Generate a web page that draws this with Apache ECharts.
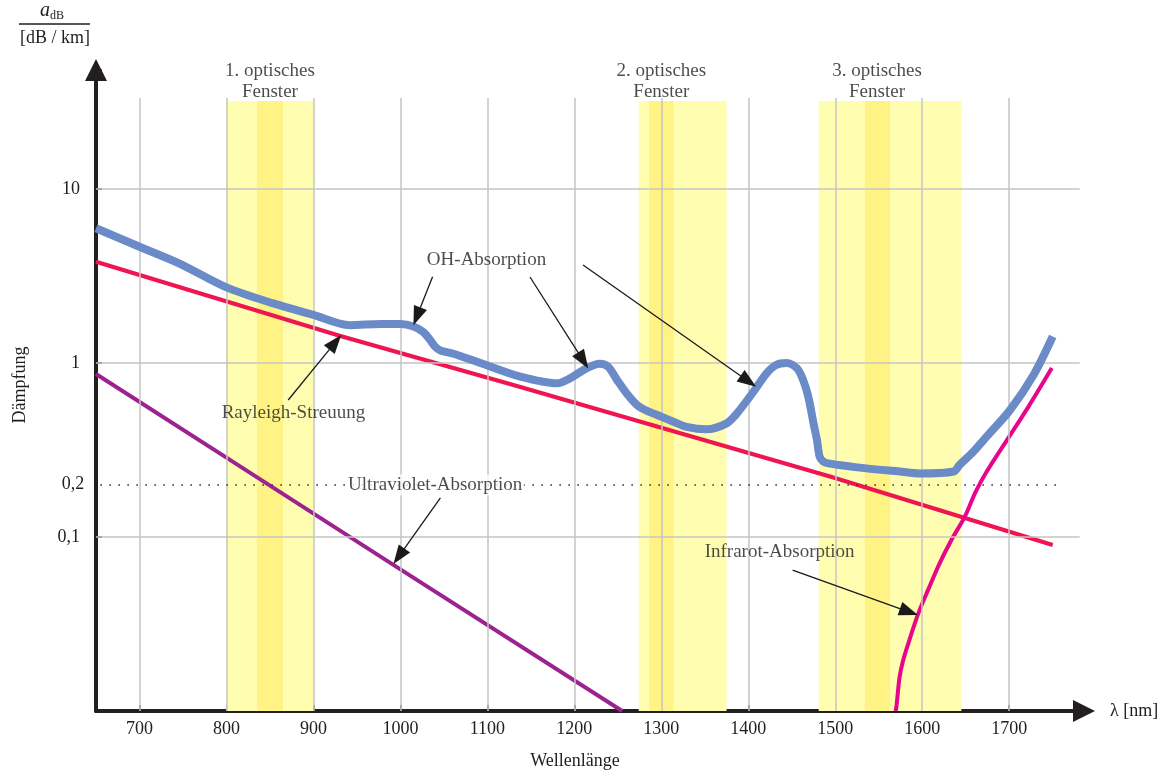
<!DOCTYPE html>
<html>
<head>
<meta charset="utf-8">
<script src="https://cdn.jsdelivr.net/npm/echarts@6/dist/echarts.min.js"></script>
<style>
  html, body { margin: 0; padding: 0; background: #ffffff; }
  #chart { width: 1171px; height: 771px; }
</style>
</head>
<body>
<div id="chart"></div>
<script>
// Wellenlängen-Achse (nm)
const xTicks = [700, 800, 900, 1000, 1100, 1200, 1300, 1400, 1500, 1600, 1700];
// Beschriftete Dämpfungswerte der log. Achse (dB/km)
const yGridValues = [0.1, 1, 10];
const refLevel = 0.2;

// Gesamtdämpfung einer Glasfaser [nm, dB/km]
const totalLoss = [
  [650, 5.95], [700, 4.66], [746, 3.73], [800, 2.72], [854, 2.2], [900, 1.89], [942, 1.65],
  [977, 1.675], [1000, 1.675], [1015, 1.62], [1026, 1.51], [1034, 1.36], [1040, 1.24],
  [1046, 1.18], [1061, 1.13], [1092, 1.0], [1138, 0.834], [1180, 0.764], [1195, 0.816],
  [1214, 0.932], [1229, 0.99], [1239, 0.95], [1249, 0.8], [1260, 0.67], [1272, 0.574],
  [1283, 0.532], [1298, 0.496], [1314, 0.46], [1329, 0.43], [1352, 0.416], [1375, 0.45],
  [1387, 0.514], [1406, 0.684], [1421, 0.872], [1432, 0.974], [1444, 1.0], [1456, 0.932],
  [1463, 0.8], [1469, 0.64], [1475, 0.45], [1479, 0.36], [1482, 0.29], [1486, 0.272],
  [1492, 0.265], [1536, 0.248], [1574, 0.238], [1597, 0.232], [1636, 0.238], [1643, 0.26],
  [1659, 0.31], [1674, 0.377], [1701, 0.537], [1728, 0.853], [1750, 1.42]
];
// Rayleigh-Streuung
const rayleigh = [[650, 3.82], [931, 1.43], [1137, 0.73], [1495, 0.222], [1750, 0.09]];
// Ultraviolett-Absorption
const ultraviolet = [[650, 0.865], [800, 0.286], [1000, 0.0652], [1255, 0.01]];
// Infrarot-Absorption
const infrared = [
  [1569.5, 0.01], [1570.5, 0.0108], [1574, 0.0157], [1578, 0.0195], [1584, 0.0245],
  [1595.5, 0.0364], [1607, 0.05], [1620, 0.0705], [1634, 0.097], [1649, 0.131],
  [1661, 0.18], [1674, 0.237], [1697, 0.358], [1722, 0.56], [1749, 0.936]
];

// Optische Fenster [von, bis] in nm
const windowsOuter = [[800, 900], [1274, 1375], [1481, 1645]];
const windowsInner = [[835, 865], [1286, 1314], [1534, 1563]];
const windowNames = ['1. optisches\nFenster', '2. optisches\nFenster', '3. optisches\nFenster'];
const windowCenters = [850, 1300, 1548];

const FONT = '"Liberation Serif", "DejaVu Serif", serif';
const TXT = '#1e1e1e';
const AXIS = '#231f20';
const X_MIN = 650, X_MAX = 1786, Y_MIN = 0.01, Y_MAX = 48.3;
const GRID_TOP_VAL = 33.3, GRID_RIGHT_VAL = 1781;

// Beschriftungen mit Pfeilen: [x0, y0, Spitze x, Spitze y] in Datenkoordinaten
const arrows = [
  [1037, 3.13, 1015, 1.65],
  [1149, 3.12, 1216, 0.93],
  [1210, 3.66, 1409, 0.73],
  [871, 0.613, 932, 1.45],
  [1046, 0.168, 992, 0.07],
  [1451, 0.0646, 1595, 0.0356]
];
const notes = [
  { name: 'OH-Absorption', value: [1099, 3.91] },
  { name: 'Rayleigh-Streuung', value: [877, 0.516] },
  // liegt auf der gepunkteten 0,2-Linie: weiß hinterlegt, damit lesbar
  { name: 'Ultraviolet-Absorption', value: [1040, 0.199], label: { backgroundColor: '#ffffff', padding: [0, 2] } },
  { name: 'Infrarot-Absorption', value: [1436, 0.082] }
];

const chart = echarts.init(document.getElementById('chart'), null, { renderer: 'canvas' });

const bandArea = (list) => list.map(([a, b]) => [
  { coord: [a, Y_MIN] }, { coord: [b, GRID_TOP_VAL - 1.3] }
]);

const curve = (name, data, color, width, z, smooth) => ({
  name, type: 'line', data, z,
  showSymbol: false, symbol: 'none', smooth: smooth || false,
  lineStyle: { color, width, cap: 'butt', join: 'round' },
  silent: true
});

// Pfeil: Linie plus gefüllte Dreiecksspitze, Enden über die Achsen umgerechnet
function renderArrow(params, api) {
  const p0 = api.coord([api.value(0), api.value(1)]);
  const p1 = api.coord([api.value(2), api.value(3)]);
  const dx = p1[0] - p0[0], dy = p1[1] - p0[1];
  const len = Math.hypot(dx, dy);
  const ux = dx / len, uy = dy / len;
  const headLen = 19, headHalf = 7;
  const bx = p1[0] - ux * headLen, by = p1[1] - uy * headLen;
  return {
    type: 'group',
    children: [
      {
        type: 'line',
        shape: { x1: p0[0], y1: p0[1], x2: bx + ux * 2, y2: by + uy * 2 },
        style: { stroke: '#1a1a1a', lineWidth: 1.3 }
      },
      {
        type: 'polygon',
        shape: { points: [p1, [bx - uy * headHalf, by + ux * headHalf], [bx + uy * headHalf, by - ux * headHalf]] },
        style: { fill: '#1a1a1a' }
      }
    ]
  };
}

chart.setOption({
  animation: false,
  backgroundColor: '#ffffff',
  grid: { left: 96, right: 87, top: 70, bottom: 60 },
  xAxis: {
    type: 'value', min: X_MIN, max: X_MAX,
    splitLine: { show: false },
    axisLine: {
      lineStyle: { color: AXIS, width: 4 },
      symbol: ['none', 'triangle'], symbolSize: [22, 22]
    },
    axisTick: { show: true, inside: true, length: 6, lineStyle: { color: AXIS, width: 1.5 }, customValues: xTicks },
    axisLabel: {
      customValues: xTicks, margin: 9, fontFamily: FONT, fontSize: 18, color: TXT,
      formatter: (v) => String(v)
    }
  },
  yAxis: {
    type: 'log', min: Y_MIN, max: Y_MAX, logBase: 10,
    splitLine: { show: false },
    axisLine: {
      lineStyle: { color: AXIS, width: 4 },
      symbol: ['none', 'triangle'], symbolSize: [22, 22]
    },
    axisTick: { show: true, inside: true, length: 6, lineStyle: { color: AXIS, width: 1.5 } },
    axisLabel: {
      margin: 16, fontFamily: FONT, fontSize: 18, color: TXT,
      formatter: (v) => {
        const hit = yGridValues.find((g) => Math.abs(v - g) / g < 1e-6);
        return hit === undefined ? '' : String(hit).replace('.', ',');
      }
    }
  },
  series: [
    {
      name: 'fensterHell', type: 'line', data: [], z: 1, silent: true,
      markArea: { silent: true, itemStyle: { color: '#fffdb0' }, data: bandArea(windowsOuter) }
    },
    {
      name: 'fensterDunkel', type: 'line', data: [], z: 1, silent: true,
      markArea: { silent: true, itemStyle: { color: '#fff385' }, data: bandArea(windowsInner) }
    },
    {
      name: 'gitter', type: 'line', data: [], z: 2, silent: true,
      markLine: {
        silent: true, symbol: ['none', 'none'], animation: false,
        label: { show: false },
        lineStyle: { color: '#c4c4c4', width: 1.5, type: 'solid' },
        data: [
          ...xTicks.map((x) => [{ coord: [x, Y_MIN] }, { coord: [x, GRID_TOP_VAL] }]),
          ...yGridValues.map((v) => [{ coord: [X_MIN, v] }, { coord: [GRID_RIGHT_VAL, v] }])
        ]
      }
    },
    {
      name: 'referenz', type: 'line', data: [], z: 3, silent: true,
      markLine: {
        silent: true, symbol: ['none', 'none'],
        lineStyle: { color: '#333333', width: 1.6, type: [1.6, 7.4] },
        label: {
          show: true, position: 'start', distance: 16, formatter: '0,2',
          fontFamily: FONT, fontSize: 18, color: TXT
        },
        data: [[{ coord: [655, refLevel] }, { coord: [1758, refLevel] }]]
      }
    },
    curve('Ultraviolet-Absorption', ultraviolet, '#9c2290', 4, 4),
    curve('Rayleigh-Streuung', rayleigh, '#ee1550', 4, 4),
    curve('Infrarot-Absorption', infrared, '#e8058a', 4, 4, 0.3),
    curve('Gesamtdämpfung', totalLoss, '#6a8ac8', 8, 5, 0.3),
    {
      name: 'pfeile', type: 'custom', z: 6, silent: true,
      renderItem: renderArrow, data: arrows, clip: false
    },
    {
      name: 'texte', type: 'scatter', z: 7, silent: true, symbolSize: 0,
      data: notes.concat(windowNames.map((n, i) => ({ name: n, value: [windowCenters[i], 41.5] }))),
      label: {
        show: true, position: 'inside', formatter: '{b}',
        fontFamily: FONT, fontSize: 19, color: TXT, lineHeight: 21, align: 'center'
      },
      labelLayout: { hideOverlap: false }
    }
  ],
  graphic: [
    {
      type: 'text', left: 40, top: 1,
      style: {
        text: '{a|a}{s|dB}', fontFamily: FONT, fill: TXT,
        rich: {
          a: { fontFamily: FONT, fontStyle: 'italic', fontSize: 20, fill: TXT },
          s: { fontFamily: FONT, fontSize: 12, fill: TXT, padding: [9, 0, 0, 0] }
        }
      }
    },
    { type: 'line', shape: { x1: 19, y1: 24, x2: 90, y2: 24 }, style: { stroke: TXT, lineWidth: 1.3 } },
    {
      type: 'text', x: 55, y: 38,
      style: { text: '[dB / km]', fontFamily: FONT, fontSize: 18, fill: TXT, align: 'center', verticalAlign: 'middle' }
    },
    {
      type: 'text', x: 20, y: 385, rotation: Math.PI / 2,
      style: { text: 'Dämpfung', fontFamily: FONT, fontSize: 18, fill: TXT, align: 'center', verticalAlign: 'middle' }
    },
    {
      type: 'text', x: 1110, y: 711,
      style: { text: 'λ [nm]', fontFamily: FONT, fontSize: 18, fill: TXT, align: 'left', verticalAlign: 'middle' }
    },
    {
      type: 'text', x: 575, y: 761,
      style: { text: 'Wellenlänge', fontFamily: FONT, fontSize: 18, fill: TXT, align: 'center', verticalAlign: 'middle' }
    }
  ]
});
</script>
</body>
</html>
